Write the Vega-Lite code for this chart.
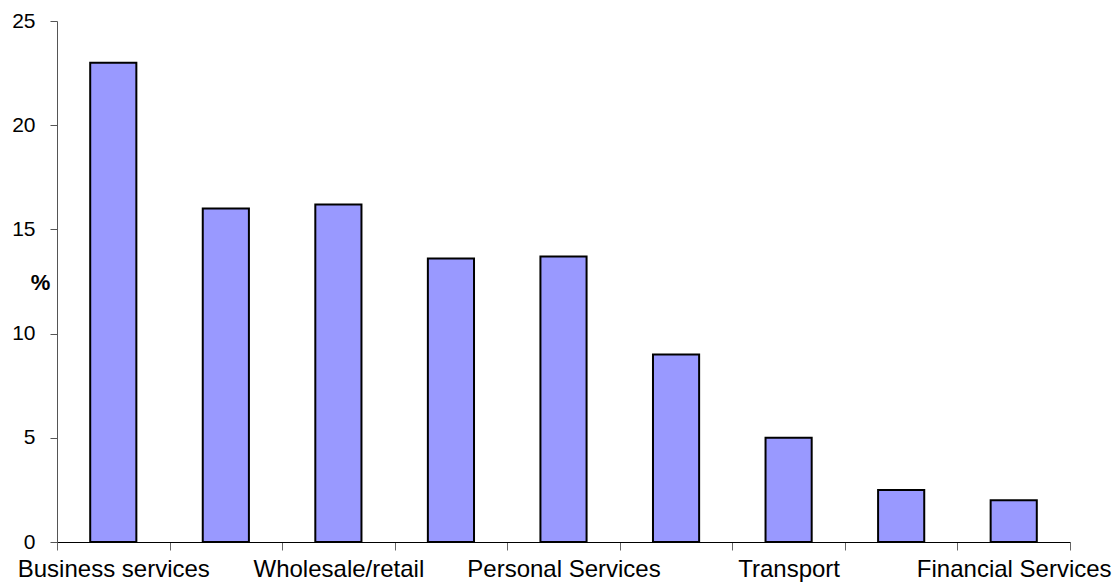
{
  "$schema": "https://vega.github.io/schema/vega-lite/v6.json",
  "autosize": "none",
  "width": 1013,
  "height": 521,
  "padding": {"left": 57, "top": 21, "right": 48, "bottom": 44},
  "background": "white",
  "config": {"view": {"stroke": null}, "font": "Liberation Sans"},
  "data": {
    "values": [
      {"sector": "Business services", "pct": 23},
      {"sector": "Manufacturing", "pct": 16},
      {"sector": "Wholesale/retail", "pct": 16.2},
      {"sector": "Construction", "pct": 13.6},
      {"sector": "Personal Services", "pct": 13.7},
      {"sector": "Hotels/catering", "pct": 9},
      {"sector": "Transport", "pct": 5},
      {"sector": "Other", "pct": 2.5},
      {"sector": "Financial Services", "pct": 2}
    ]
  },
  "mark": {"type": "bar", "fill": "#9999FF", "stroke": "#000000", "strokeWidth": 2, "width": {"band": 0.41}},
  "encoding": {
    "x": {
      "field": "sector",
      "type": "nominal",
      "sort": null,
      "scale": {"paddingInner": 0, "paddingOuter": 0},
      "axis": {
        "title": null,
        "labelAngle": 0,
        "labelFontSize": 24,
        "labelColor": "#000000",
        "labelLimit": 0,
        "labelOverlap": false,
        "labelPadding": 7,
        "labelExpr": "indexof(['Business services','Wholesale/retail','Personal Services','Transport','Financial Services'], datum.value) >= 0 ? datum.label : ''",
        "tickBand": "extent",
        "tickSize": 8,
        "tickColor": "#666666",
        "domainColor": "#000000",
        "domainWidth": 1,
        "grid": false
      }
    },
    "y": {
      "field": "pct",
      "type": "quantitative",
      "scale": {"domain": [0, 25]},
      "axis": {
        "values": [0, 5, 10, 15, 20, 25],
        "title": "%",
        "titleAngle": 0,
        "titleFontSize": 22,
        "titleFontWeight": "bold",
        "titleColor": "#000000",
        "titleAlign": "center",
        "titleBaseline": "middle",
        "titleX": -17,
        "titleY": 261,
        "labelFontSize": 21,
        "labelColor": "#000000",
        "labelPadding": 15,
        "tickSize": 7,
        "tickColor": "#555555",
        "domainColor": "#555555",
        "grid": false
      }
    }
  }
}
